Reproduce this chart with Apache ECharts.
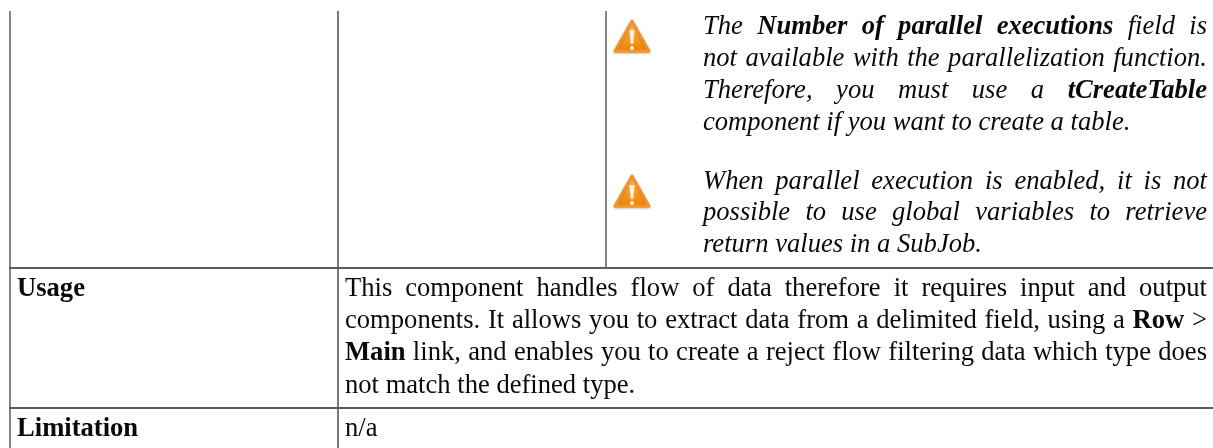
<!DOCTYPE html>
<html>
<head>
<meta charset="utf-8">
<style>
html,body{margin:0;padding:0;background:#fff;}
#main{width:1213px;height:448px;}
</style>
<script src="https://cdn.jsdelivr.net/npm/echarts@6/dist/echarts.min.js"></script>
</head>
<body>
<div id="main"></div>
<script>
// text per line, * marks bold words
var warnLines1 = ['The *Number *of *parallel *executions field is', 'not available with the parallelization function.', 'Therefore, you must use a *tCreateTable', 'component if you want to create a table.'];
var warnLines2 = ['When parallel execution is enabled, it is not', 'possible to use global variables to retrieve', 'return values in a SubJob.'];
var usageLines = ['This component handles flow of data therefore it requires input and output', 'components. It allows you to extract data from a delimited field, using a *Row >', '*Main link, and enables you to create a reject flow filtering data which type does', 'not match the defined type.'];
var rowLabels = ['Usage', 'Limitation'];
var limitationText = 'n/a';

var FONT = '"Liberation Serif","Times New Roman",serif';
var SIZE = 26.6;
var ctx = document.createElement('canvas').getContext('2d');

function fontOf(bold, italic) {
	return (italic ? 'italic ' : '') + (bold ? 'bold ' : '') + SIZE + 'px ' + FONT;
}

function textEl(str, x, y, bold, italic) {
	return {
		type: 'text',
		x: x,
		y: y,
		style: {
			text: str,
			font: fontOf(bold, italic),
			fill: '#0a0a0a',
			textVerticalAlign: 'middle'
		}
	};
}

// draw one line word by word, justified out to right when asked
function lineEls(line, left, right, y, italic, justify) {
	var words = line.split(' ');
	var out = [];
	var total = 0;
	var i;
	var list = [];
	for (i = 0; i < words.length; i++) {
		var bold = words[i].charAt(0) == '*';
		var w = bold ? words[i].substring(1) : words[i];
		ctx.font = fontOf(bold, italic);
		var width = ctx.measureText(w).width;
		list.push({ text: w, bold: bold, width: width });
		total += width;
	}
	ctx.font = fontOf(false, italic);
	var gap = ctx.measureText(' ').width;
	if (justify) {
		gap = (right - left - total) / (words.length - 1);
	}
	var x = left;
	for (i = 0; i < list.length; i++) {
		out.push(textEl(list[i].text, x, y, list[i].bold, italic));
		x += list[i].width + gap;
	}
	return out;
}

function blockEls(lines, left, right, ys, italic) {
	var out = [];
	for (var i = 0; i < lines.length; i++) {
		out = out.concat(lineEls(lines[i], left, right, ys[i], italic, i < lines.length - 1));
	}
	return out;
}

function rule(x1, y1, x2, y2, color) {
	return {
		type: 'line',
		shape: { x1: x1, y1: y1, x2: x2, y2: y2 },
		style: { stroke: color, lineWidth: 2 }
	};
}

// warning triangle
function iconEls(cx, top) {
	return [
		{
			type: 'polygon',
			shape: { points: [[cx, top + 3], [cx + 17, top + 33], [cx - 17, top + 33]] },
			style: {
				fill: {
					type: 'linear', x: 0, y: 0, x2: 0, y2: 1,
					colorStops: [{ offset: 0, color: '#fbc98c' }, { offset: 0.5, color: '#fa9f2c' }, { offset: 1, color: '#ee7d06' }]
				},
				stroke: '#f49428',
				lineWidth: 3,
				lineJoin: 'round',
				shadowBlur: 2,
				shadowOffsetY: 1,
				shadowColor: 'rgba(120,90,50,0.45)'
			}
		},
		{
			type: 'polygon',
			shape: { points: [[cx - 2.5, top + 12], [cx + 2.5, top + 12], [cx + 1.3, top + 26], [cx - 1.3, top + 26]] },
			style: { fill: '#fff1de' }
		},
		{
			type: 'circle',
			shape: { cx: cx, cy: top + 30, r: 2 },
			style: { fill: '#fff1de' }
		}
	];
}

var els = [];
els.push(rule(10, 11, 10, 448, '#868686'));
els.push(rule(338, 11, 338, 448, '#7a7a7a'));
els.push(rule(606, 11, 606, 268, '#868686'));
els.push(rule(9, 268, 1213, 268, '#5c5c5c'));
els.push(rule(9, 408, 1213, 408, '#5c5c5c'));

els = els.concat(blockEls(warnLines1, 703, 1207, [27, 59, 91, 123], true));
els = els.concat(blockEls(warnLines2, 703, 1207, [182, 213, 245], true));
els = els.concat(blockEls(usageLines, 345, 1207, [289, 321, 353, 386], false));
els.push(textEl(rowLabels[0], 17, 289, true, false));
els.push(textEl(rowLabels[1], 17, 429, true, false));
els.push(textEl(limitationText, 345, 429, false, false));
els = els.concat(iconEls(632, 18));
els = els.concat(iconEls(632, 173));

var myChart = echarts.init(document.getElementById('main'));
myChart.setOption({
	animation: false,
	backgroundColor: '#fff',
	graphic: { elements: els }
});
</script>
</body>
</html>
